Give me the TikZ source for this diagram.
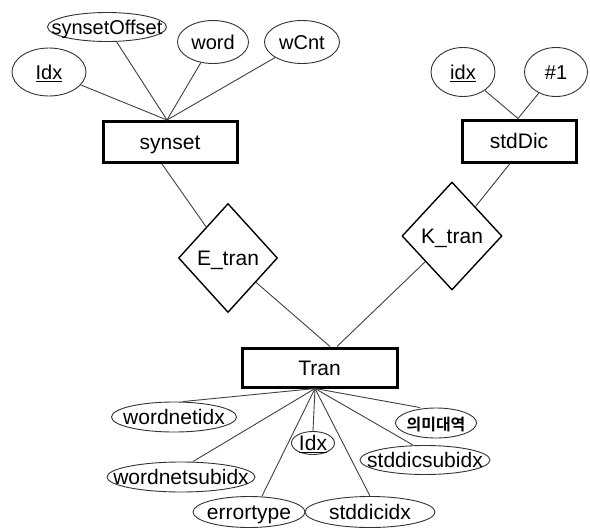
\documentclass[tikz,border=0pt]{standalone}
\usepackage{fontspec}
\setmainfont{Liberation Sans}
\newfontfamily\korfont{Noto Sans CJK KR}[BoldFont={Noto Sans CJK KR Bold}]
\usetikzlibrary{shapes.geometric,calc}
\newcommand{\lbl}[1]{\smash{\raisebox{-0.36em}{\makebox[0pt]{#1}}}}
\tikzset{
  attr/.style={ellipse, draw=black!80, line width=0.9pt, fill=white, inner sep=0pt,
    font=\fontsize{20}{22}\selectfont},
  battr/.style={attr, font=\fontsize{21}{23}\selectfont},
  ent/.style={rectangle, draw=black, line width=3pt, fill=white, inner sep=0pt,
    font=\fontsize{21}{24}\selectfont},
  rel/.style={diamond, draw=black, line width=1.4pt, fill=white, inner sep=0pt,
    font=\fontsize{21}{24}\selectfont},
  conn/.style={draw=black!75, line width=0.9pt}
}
\begin{document}
\begin{tikzpicture}[x=1pt,y=-1pt]
\useasboundingbox (0,0) rectangle (590,531);
% entities
\node[ent, minimum width=134, minimum height=41] (synset) at (170,142) {\lbl{synset}};
\node[ent, minimum width=114, minimum height=42] (stdDic) at (519,141) {\lbl{stdDic}};
\node[ent, minimum width=155, minimum height=39] (Tran) at (319.5,367.5) {\lbl{Tran}};
% attributes of synset
\node[attr, minimum width=119, minimum height=29] (sOff) at (107,27) {\lbl{synsetOffset}};
\node[attr, minimum width=71, minimum height=43] (word) at (213,42) {\lbl{word}};
\node[attr, minimum width=75, minimum height=43] (wCnt) at (302,42) {\lbl{wCnt}};
\node[attr, minimum width=74, minimum height=48] (IdxA) at (49,72) {\lbl{\underline{Idx}}};
% attributes of stdDic
\node[attr, minimum width=64, minimum height=49] (idxB) at (463,72) {\lbl{\underline{idx}}};
\node[attr, minimum width=63, minimum height=49] (num) at (556,72) {\lbl{\#1}};
% attributes of Tran
\node[battr, minimum width=125, minimum height=30] (wni) at (174,417) {\lbl{wordnetidx}};
\node[battr, minimum width=148, minimum height=30] (wnsi) at (181,477) {\lbl{wordnetsubidx}};
\node[battr, minimum width=112, minimum height=31] (err) at (249,512) {\lbl{errortype}};
\node[battr, minimum width=43, minimum height=23] (IdxC) at (313,443) {\lbl{\underline{Idx}}};
\node[battr, minimum width=130, minimum height=31] (sdi) at (370,512) {\lbl{stddicidx}};
\node[battr, minimum width=130, minimum height=29] (sdsi) at (425,460) {\lbl{stddicsubidx}};
\node[attr, minimum width=81, minimum height=30] (kor) at (436,423) {\lbl{\korfont\bfseries\fontsize{16}{18}\selectfont 의미대역}};
% connection points
\coordinate (st) at ($(synset.north)+(-3,0)$);
\coordinate (dt) at ($(stdDic.north)+(-1,0)$);
\coordinate (sb) at ($(synset.south)+(-8,0)$);
\coordinate (db) at ($(stdDic.south)+(-9,0)$);
\coordinate (tE) at ($(Tran.north)+(10.5,0)$);
\coordinate (tK) at ($(Tran.north)+(17.5,0)$);
\coordinate (tb) at ($(Tran.south)+(-4.5,0)$);
% connectors
\draw[conn] (st) -- (IdxA);
\draw[conn] (st) -- (sOff);
\draw[conn] (st) -- (word);
\draw[conn] (st) -- (wCnt);
\draw[conn] (dt) -- (idxB);
\draw[conn] (dt) -- (num);
\draw[conn] (tb) -- ([xshift=9]wni.north);
\draw[conn] (tb) -- ([xshift=12]wnsi.north);
\draw[conn] (tb) -- ([xshift=13]err.north);
\draw[conn] (tb) -- (IdxC.north);
\draw[conn] (tb) -- (sdi.north);
\draw[conn] (tb) -- ([xshift=-12]sdsi.north);
\draw[conn] (tb) -- ([xshift=-16]kor.north);
% relationships
\node[rel, minimum width=99, minimum height=109] (Etran) at (228,258) {\lbl{E\_tran}};
\node[rel, minimum width=100, minimum height=108] (Ktran) at (452,236) {\lbl{K\_tran}};
\draw[conn] (sb) -- (Etran);
\draw[conn] (Etran) -- (tE);
\draw[conn] (db) -- (Ktran);
\draw[conn] (Ktran) -- (tK);
\end{tikzpicture}
\end{document}
